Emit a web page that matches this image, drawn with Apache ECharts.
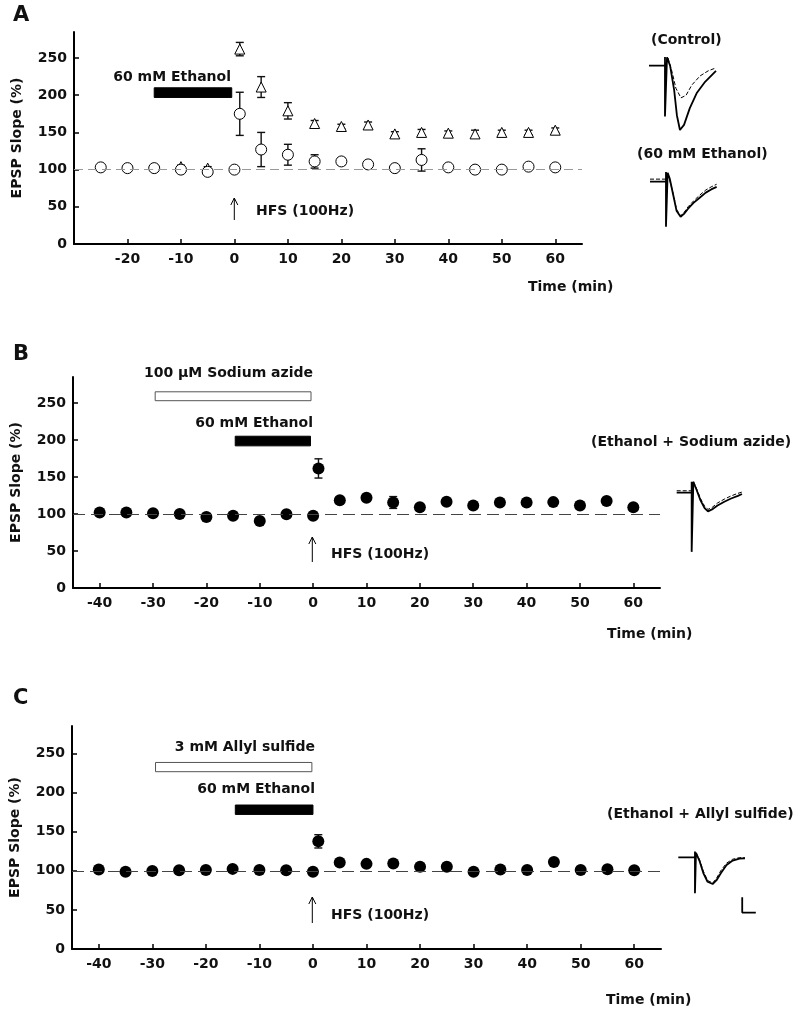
<!DOCTYPE html>
<html>
<head>
<meta charset="utf-8">
<script src="https://cdn.jsdelivr.net/npm/echarts@6/dist/echarts.min.js"></script>
<style>
html, body { margin: 0; padding: 0; background: #fff; }
#chart { width: 800px; height: 1014px; }
</style>
</head>
<body>
<div id="chart"></div>
<script>
// panel A: control vs 60 mM ethanol
var timeA = [-25, -20, -15, -10, -5, 0, 1, 5, 10, 15, 20, 25, 30, 35, 40, 45, 50, 55, 60];
var ethanolA = [103, 102, 102, 100, 97, 100, 175, 127, 120, 111, 111, 107, 102, 113, 103, 100, 100, 104, 103];
var ethanolErrA = [2, 2, 2, 2, 2, 2, 29, 23, 14, 9, 5, 4, 2, 15, 2, 2, 2, 2, 2];
// control points hidden behind the circles before -10 are left out
var timeCtrlA = [-10, -5, 1, 5, 10, 15, 20, 25, 30, 35, 40, 45, 50, 55, 60];
var controlA = [104, 102, 262, 211, 179, 162, 158, 160, 148, 150, 149, 148, 150, 150, 153];
var controlErrA = [2, 2, 9, 14, 11, 4, 3, 4, 3, 4, 3, 5, 3, 3, 3];

// panel B: ethanol + sodium azide
var timeB = [-40, -35, -30, -25, -20, -15, -10, -5, 0, 1, 5, 10, 15, 20, 25, 30, 35, 40, 45, 50, 55, 60];
var azideB = [102, 102, 101, 100, 96, 97.5, 90.5, 99.5, 97.5, 161.5, 118.5, 122, 115.5, 109, 116.5, 111.5, 115.5, 115.5, 116, 111.5, 117.5, 109];
var azideErrB = [2, 2, 2, 2, 2, 2, 2, 2, 2, 13, 3, 4, 8, 2, 2, 2, 2, 2, 2, 2, 2, 2];

// panel C: ethanol + allyl sulfide
var timeC = timeB;
var allylC = [101.6, 98.8, 99.6, 100.6, 101, 102.4, 101, 100.6, 98.8, 137.6, 110.5, 108.8, 109.3, 105, 105, 98.6, 101.6, 101, 111.3, 101, 102, 100.6];
var allylErrC = [2, 2, 2, 2, 2, 2, 2, 2, 2, 8.5, 2, 3, 4, 4, 3, 2, 2, 2, 2, 2, 2, 2];

var yTicks = [0, 50, 100, 150, 200, 250];
var xTicksA = [-20, -10, 0, 10, 20, 30, 40, 50, 60];
var xTicksBC = [-40, -30, -20, -10, 0, 10, 20, 30, 40, 50, 60];

// example EPSP traces, [ms, amplitude]
var traceControl = [[0, 0], [2.35, 0], [2.35, 0.135], [2.35, -0.79], [2.65, 0.13], [3.1, 0], [3.7, -0.38], [4.1, -0.77], [4.55, -1.0], [5.15, -0.92], [6.0, -0.66], [7.05, -0.42], [8.25, -0.25], [9.85, -0.08]];
var traceControlPost = [[2.8, 0.12], [3.4, -0.1], [3.95, -0.35], [4.7, -0.5], [5.45, -0.46], [6.3, -0.3], [7.5, -0.16], [8.7, -0.08], [9.7, -0.04]];
var traceEthanol = [[0, 0], [2.35, 0], [2.35, 0.15], [2.35, -0.7], [2.6, 0.14], [2.9, 0.05], [3.4, -0.2], [3.9, -0.45], [4.5, -0.545], [5.0, -0.5], [5.6, -0.42], [6.4, -0.33], [7.3, -0.25], [8.2, -0.17], [9.0, -0.12], [9.8, -0.08]];
var traceEthanolPost = [[0, 0.04], [2.3, 0.04], [2.6, 0.14], [3.4, -0.18], [3.9, -0.43], [4.5, -0.53], [5.0, -0.48], [5.6, -0.39], [6.4, -0.3], [7.3, -0.21], [8.2, -0.13], [9.0, -0.08], [9.8, -0.04]];
var traceAzide = [[0, 0], [2.2, 0], [2.2, 0.17], [2.2, -0.92], [2.45, 0.17], [2.9, 0.05], [3.5, -0.12], [4.1, -0.24], [4.6, -0.29], [5.2, -0.26], [6.0, -0.2], [7.0, -0.14], [8.0, -0.09], [9.0, -0.05], [9.6, -0.02]];
var traceAzidePost = [[0, 0.03], [2.2, 0.03], [2.45, 0.17], [2.9, 0.07], [3.5, -0.09], [4.1, -0.21], [4.6, -0.26], [5.2, -0.23], [6.0, -0.16], [7.0, -0.1], [8.0, -0.05], [9.0, -0.01], [9.6, 0.01]];
var traceAllyl = [[0, 0], [2.45, 0], [2.45, 0.09], [2.45, -0.56], [2.6, 0.07], [3.1, -0.05], [3.7, -0.25], [4.3, -0.38], [5.05, -0.415], [5.6, -0.36], [6.3, -0.24], [7.1, -0.12], [8.0, -0.05], [9.0, -0.02], [9.8, -0.015]];
var traceAllylPost = [[2.6, 0.07], [3.1, -0.03], [3.7, -0.22], [4.3, -0.36], [5.05, -0.4], [5.6, -0.33], [6.3, -0.2], [7.1, -0.09], [8.0, -0.03], [9.0, -0.005], [9.8, -0.01]];
var scaleBar = [[9.4, -0.62], [9.4, -0.86], [11.4, -0.86]];

var FONT = "DejaVu Sans";
var chart = echarts.init(document.getElementById("chart"));

function pairs(t, v) {
    return t.map(function (x, i) { return [x, v[i]]; });
}
function triples(t, v, e) {
    return t.map(function (x, i) { return [x, v[i], e[i]]; });
}

function errorBar(params, api) {
    var x = api.value(0), m = api.value(1), e = api.value(2);
    var top = api.coord([x, m + e]);
    var bot = api.coord([x, m - e]);
    var w = 4;
    var style = { stroke: "#111", lineWidth: 1.4 };
    return {
        type: "group",
        children: [
            { type: "line", shape: { x1: top[0], y1: top[1], x2: bot[0], y2: bot[1] }, style: style },
            { type: "line", shape: { x1: top[0] - w, y1: top[1], x2: top[0] + w, y2: top[1] }, style: style },
            { type: "line", shape: { x1: bot[0] - w, y1: bot[1], x2: bot[0] + w, y2: bot[1] }, style: style },
        ],
    };
}

var labelStyle = { fontFamily: FONT, fontWeight: "bold", fontSize: 14, color: "#111" };

function xAxisMain(grid, min, ticks) {
    return {
        gridIndex: grid, type: "value", min: min, max: 65,
        axisLine: { onZero: false, lineStyle: { color: "#000", width: 2 } },
        axisTick: { inside: true, length: 5, lineStyle: { color: "#000", width: 1.5 }, customValues: ticks },
        axisLabel: Object.assign({ margin: 8, customValues: ticks }, labelStyle),
        splitLine: { show: false },
    };
}
function yAxisMain(grid) {
    return {
        gridIndex: grid, type: "value", min: 0, max: 285,
        name: "EPSP Slope (%)", nameLocation: "middle", nameRotate: 90, nameGap: 50,
        nameTextStyle: { fontFamily: FONT, fontWeight: "bold", fontSize: 14, color: "#111" },
        axisLine: { show: true, onZero: false, lineStyle: { color: "#000", width: 2 } },
        axisTick: { show: true, inside: true, length: 5, lineStyle: { color: "#000", width: 1.5 }, customValues: yTicks },
        axisLabel: Object.assign({ margin: 7, customValues: yTicks }, labelStyle),
        splitLine: { show: false },
    };
}

// trace insets: 6.8 px per ms, 64.3 px per amplitude unit
function traceGrid(left, top, width, height, baseline) {
    return {
        grid: { left: left, top: top, width: width, height: height },
        xMax: width / 6.8,
        yMax: (baseline - top) / 64.3,
        yMin: -(top + height - baseline) / 64.3,
    };
}
var insets = [
    traceGrid(649, 50, 70, 85, 65.7),
    traceGrid(650, 165, 70, 68, 181.7),
    traceGrid(676.7, 475, 70, 85, 492.7),
    traceGrid(678.3, 845, 80, 75, 857.3),
];

var grids = [
    { left: 74, right: 218, top: 32, height: 212 },
    { left: 73, right: 140, top: 377, height: 211 },
    { left: 72, right: 139, top: 726, height: 223 },
];
var xAxes = [xAxisMain(0, -30, xTicksA), xAxisMain(1, -45, xTicksBC), xAxisMain(2, -45, xTicksBC)];
var yAxes = [yAxisMain(0), yAxisMain(1), yAxisMain(2)];
insets.forEach(function (g, i) {
    grids.push(g.grid);
    xAxes.push({ gridIndex: 3 + i, type: "value", min: 0, max: g.xMax, show: false });
    yAxes.push({ gridIndex: 3 + i, type: "value", min: g.yMin, max: g.yMax, show: false });
});

function baseLine(color, dash) {
    return {
        silent: true, symbol: "none", label: { show: false },
        lineStyle: { color: color, type: dash, width: 1 },
        data: [{ yAxis: 100 }],
    };
}
function drugArea(white, black) {
    var data = [];
    if (white) {
        data.push([{ coord: [white[0], white[2]], itemStyle: { color: "#fff", borderColor: "#555", borderWidth: 1, opacity: 1 } }, { coord: [white[1], white[3]] }]);
    }
    data.push([{ coord: [black[0], black[2]], itemStyle: { color: "#000", borderColor: "#000", borderWidth: 1, opacity: 1 } }, { coord: [black[1], black[3]] }]);
    return { silent: true, label: { show: false }, data: data };
}
function errSeries(idx, data, extra) {
    return Object.assign({
        type: "custom", xAxisIndex: idx, yAxisIndex: idx, renderItem: errorBar,
        encode: { x: 0, y: 1 }, data: data, z: 2,
    }, extra || {});
}
function dots(idx, data, symbol, filled, size) {
    return {
        type: "scatter", xAxisIndex: idx, yAxisIndex: idx, data: data, symbol: symbol,
        symbolSize: size, z: 3,
        itemStyle: filled ? { color: "#000", opacity: 1 } : { color: "#fff", borderColor: "#000", borderWidth: 1, opacity: 1 },
    };
}
function trace(idx, data, dashed) {
    return {
        type: "line", xAxisIndex: idx, yAxisIndex: idx, data: data, showSymbol: false,
        lineStyle: { color: "#000", width: dashed ? 1 : 1.8, type: dashed ? [4, 2] : "solid" },
    };
}

var series = [
    errSeries(0, triples(timeCtrlA, controlA, controlErrA), { markLine: baseLine("#999", [9, 5]), markArea: drugArea(null, [-15, -0.5, 197, 210]) }),
    errSeries(0, triples(timeA, ethanolA, ethanolErrA)),
    dots(0, pairs(timeCtrlA, controlA), "triangle", false, 10),
    dots(0, pairs(timeA, ethanolA), "circle", false, 11),

    errSeries(1, triples(timeB, azideB, azideErrB), { markLine: baseLine("#444", [12, 6]), markArea: drugArea([-29.6, -0.4, 253, 265], [-14.6, -0.5, 192, 205]) }),
    dots(1, pairs(timeB, azideB), "circle", true, 12),

    errSeries(2, triples(timeC, allylC, allylErrC), { markLine: baseLine("#444", [12, 6]), markArea: drugArea([-29.4, -0.2, 226.6, 238.4], [-14.5, 0, 172, 184]) }),
    dots(2, pairs(timeC, allylC), "circle", true, 12),

    trace(3, traceControl, false),
    trace(3, traceControlPost, true),
    trace(4, traceEthanol, false),
    trace(4, traceEthanolPost, true),
    trace(5, traceAzide, false),
    trace(5, traceAzidePost, true),
    trace(6, traceAllyl, false),
    trace(6, traceAllylPost, true),
    trace(6, scaleBar, false),
];

function txt(text, x, y, align, size) {
    return {
        type: "text", x: x, y: y, silent: true,
        style: { text: text, align: align || "left", verticalAlign: "middle", fontFamily: FONT, fontWeight: "bold", fontSize: size || 14, fill: "#111" },
    };
}
function arrow(x, yBottom, yTop) {
    var s = { stroke: "#000", lineWidth: 1, fill: null };
    return {
        type: "group", silent: true,
        children: [
            { type: "line", shape: { x1: x, y1: yBottom, x2: x, y2: yTop }, style: s },
            { type: "polyline", shape: { points: [[x - 3.5, yTop + 7], [x, yTop], [x + 3.5, yTop + 7]] }, style: s },
        ],
    };
}

var graphics = [
    txt("A", 13, 16, "left", 21),
    txt("60 mM Ethanol", 231, 77, "right"),
    arrow(234.3, 220, 198),
    txt("HFS (100Hz)", 256, 211),
    txt("Time (min)", 528, 287),
    txt("(Control)", 651, 40),
    txt("(60 mM Ethanol)", 637, 154),

    txt("B", 13, 355, "left", 21),
    txt("100 \u00b5M Sodium azide", 313, 373, "right"),
    txt("60 mM Ethanol", 313, 423, "right"),
    arrow(312.3, 562, 537),
    txt("HFS (100Hz)", 331, 554),
    txt("(Ethanol + Sodium azide)", 591, 442),
    txt("Time (min)", 607, 634),

    txt("C", 13, 699, "left", 21),
    txt("3 mM Allyl sulfide", 315, 747, "right"),
    txt("60 mM Ethanol", 315, 789, "right"),
    arrow(312.3, 923, 897),
    txt("HFS (100Hz)", 331, 915),
    txt("(Ethanol + Allyl sulfide)", 607, 814),
    txt("Time (min)", 606, 1000),
];

chart.setOption({
    animation: false,
    backgroundColor: "#fff",
    grid: grids,
    xAxis: xAxes,
    yAxis: yAxes,
    series: series,
    graphic: graphics,
});
</script>
</body>
</html>
